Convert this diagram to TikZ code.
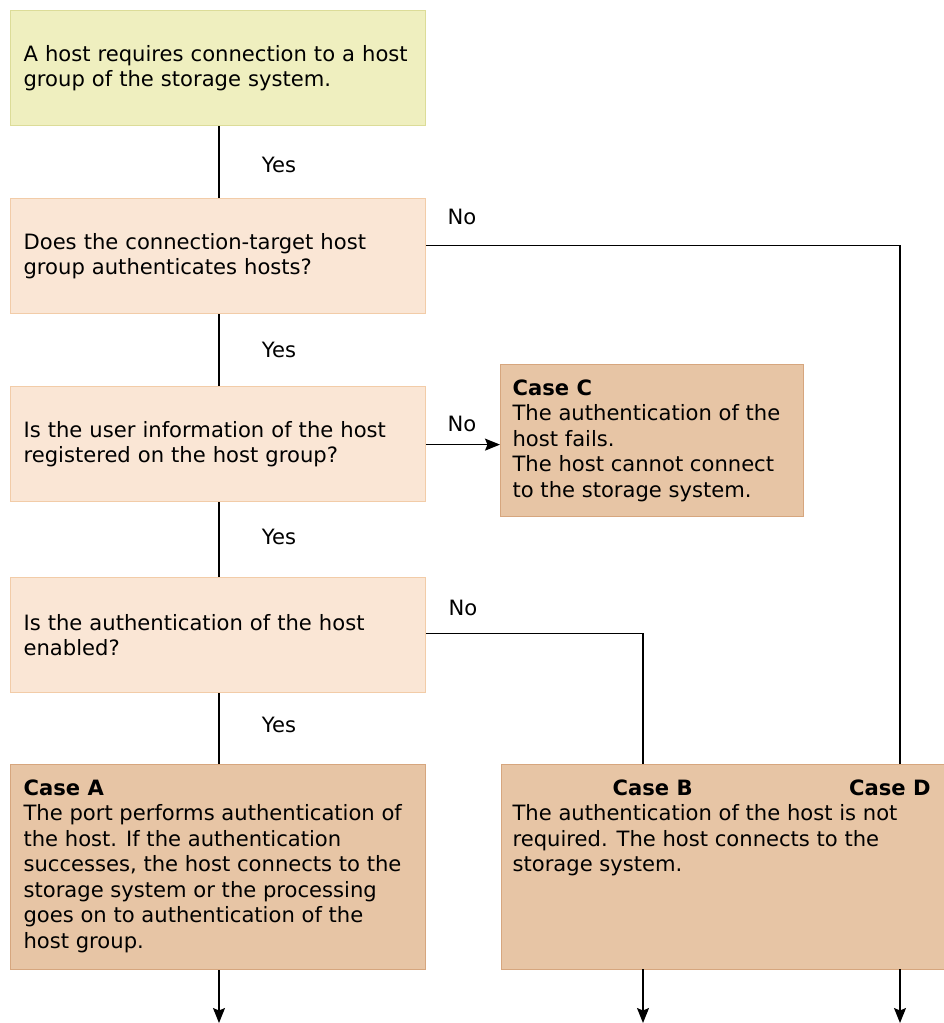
\documentclass[tikz,border=0pt]{standalone}
\usepackage{fontspec}
\setmainfont{DejaVu Sans}
\usetikzlibrary{arrows.meta}
\definecolor{startfill}{HTML}{EFEFBF}
\definecolor{startline}{HTML}{DCDC98}
\definecolor{askfill}{HTML}{FAE6D5}
\definecolor{askline}{HTML}{F2CCA8}
\definecolor{casefill}{HTML}{E7C5A5}
\definecolor{caseline}{HTML}{D6A67E}
\begin{document}
\begin{tikzpicture}[x=1pt,y=-1pt,
  every node/.style={font=\fontsize{21.1}{25.5}\selectfont},
  question/.style={draw=askline, fill=askfill, line width=1.2pt, anchor=north west,
    minimum width=415pt, minimum height=115pt, inner xsep=13pt, inner ysep=0pt,
    text width=389pt, align=left},
  start/.style={question, draw=startline, fill=startfill},
  outcome/.style={draw=caseline, fill=casefill, line width=1.2pt, anchor=north west,
    inner xsep=12pt, inner ysep=15pt, align=left},
  lbl/.style={inner sep=0pt},
  link/.style={line width=1.4pt},
  arrow/.style={link, -{Stealth[length=15pt, width=12pt, inset=2.5pt]}}
]
\useasboundingbox (0,0) rectangle (944,1023);

% question chain
\node[start]    (b1) at (10,10)  {A host requires connection to a host\\group of the storage system.};
\node[question] (b2) at (10,198) {Does the connection-target host\\group authenticates hosts?};
\node[question] (b3) at (10,386) {Is the user information of the host\\registered on the host group?};
\node[question] (b4) at (10,577) {Is the authentication of the host\\enabled?};

% outcomes
\node[outcome] (cc) at (500,364) {\parbox[c][122pt][t]{279pt}{\textbf{Case C}\\The authentication of the\\host fails.\\The host cannot connect\\to the storage system.}};
\node[outcome, inner xsep=13pt] (ca) at (10,764) {\parbox[c][175pt][t]{389pt}{\textbf{Case A}\\The port performs authentication of\\the host. If the authentication\\successes, the host connects to the\\storage system or the processing\\goes on to authentication of the\\host group.}};
\node[outcome, inner xsep=11pt] (bd) at (501,764) {\parbox[c][175pt][t]{422pt}{\makebox[418pt][l]{\hspace*{100pt}\textbf{Case B}\hfill\textbf{Case D}}\\The authentication of the host is not\\required. The host connects to the\\storage system.}};

% entry points on the shared outcome box and loose ends below
\coordinate (bIn) at (643,764);
\coordinate (dIn) at (900,764);
\coordinate (bOut) at (643,969);
\coordinate (dOut) at (900,969);
\coordinate (aEnd) at (219,1023);
\coordinate (bEnd) at (643,1023);
\coordinate (dEnd) at (900,1023);

% yes branches
\draw[link] (b1.south -| 219,0) -- (b2.north -| 219,0);
\draw[link] (b2.south -| 219,0) -- (b3.north -| 219,0);
\draw[link] (b3.south -| 219,0) -- (b4.north -| 219,0);
\draw[link] (b4.south -| 219,0) -- (ca.north -| 219,0);

% no branches
\draw[link] ([yshift=10.5pt]b2.east) -| (dIn);
\draw[arrow] ([yshift=-0.5pt]b3.east) -- ([yshift=-0.5pt]b3.east -| cc.west);
\draw[link] ([yshift=1.5pt]b4.east) -| (bIn);

% exits
\draw[arrow] (ca.south -| aEnd) -- (aEnd);
\draw[arrow] (bOut) -- (bEnd);
\draw[arrow] (dOut) -- (dEnd);

% branch labels
\node[lbl] (y1) at (279,165) {Yes};
\node[lbl] (y2) at (279,350) {Yes};
\node[lbl] (y3) at (279,537) {Yes};
\node[lbl] (y4) at (279,725) {Yes};
\node[lbl] (n1) at (462,217) {No};
\node[lbl] (n2) at (462,424) {No};
\node[lbl] (n3) at (463,608) {No};
\end{tikzpicture}
\end{document}
